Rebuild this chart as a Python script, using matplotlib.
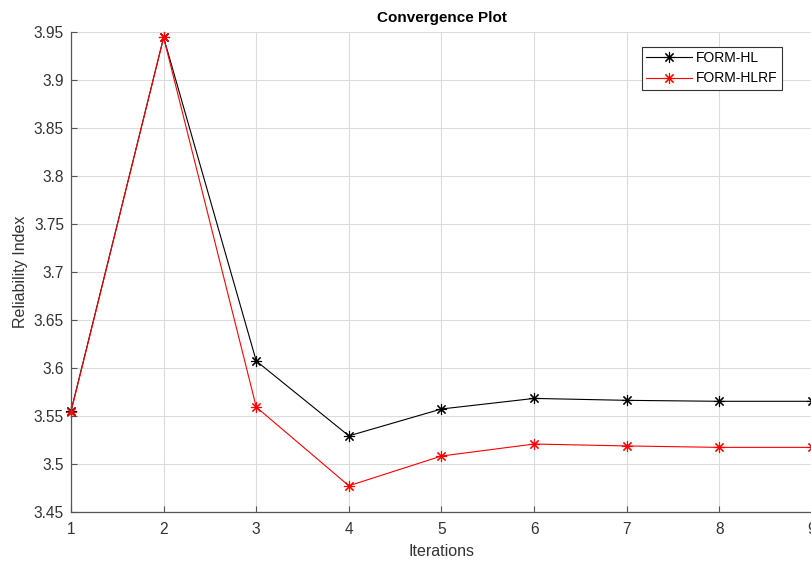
import matplotlib
matplotlib.use("Agg")
import matplotlib.pyplot as plt

plt.rcParams['font.family'] = ['Liberation Sans', 'DejaVu Sans']

iterations = [1, 2, 3, 4, 5, 6, 7, 8, 9]
form_hl = [3.555, 3.944, 3.607, 3.529, 3.557, 3.568, 3.566, 3.565, 3.565]
form_hlrf = [3.554, 3.944, 3.559, 3.477, 3.508, 3.5205, 3.5185, 3.517, 3.517]
xticks = [1, 2, 3, 4, 5, 6, 7, 8, 9]
yticks = [3.45, 3.5, 3.55, 3.6, 3.65, 3.7, 3.75, 3.8, 3.85, 3.9, 3.95]

W, H = 811, 561
fig = plt.figure(figsize=(W / 100, H / 100), dpi=100)
ax = fig.add_axes([71 / W, (H - 511.7) / H, (812 - 71) / W, (511.7 - 31.7) / H])

asterisk = (8, 2, 0)
ax.plot(iterations, form_hl, color='black', lw=0.8, marker=asterisk,
        markersize=8, markeredgewidth=0.8, label='FORM-HL', clip_on=False)
ax.plot(iterations, form_hlrf, color='red', lw=0.8, marker=asterisk,
        markersize=8, markeredgewidth=0.8, label='FORM-HLRF', clip_on=False)

ax.set_xlim(1, 9)
ax.set_ylim(3.45, 3.95)
ax.set_xticks(xticks)
ax.set_yticks(yticks)
ax.set_yticklabels(['3.45', '3.5', '3.55', '3.6', '3.65', '3.7', '3.75',
                    '3.8', '3.85', '3.9', '3.95'])
ax.grid(True, color='#dcdcdc', lw=0.8)
ax.set_axisbelow(True)
for side in ('top', 'right'):
    ax.spines[side].set_visible(False)
for side in ('left', 'bottom'):
    ax.spines[side].set_color('#555555')
    ax.spines[side].set_linewidth(0.9)
ax.tick_params(direction='in', length=4, width=0.8, color='#555555',
               labelcolor='#333333', labelsize=11.2)
ax.tick_params(axis='x', pad=7.5)
ax.tick_params(axis='y', pad=5)

ax.set_title('Convergence Plot', fontsize=11, fontweight='bold', pad=7)
ax.set_xlabel('Iterations', fontsize=11.5, color='#333333', labelpad=5)
ax.set_ylabel('Reliability Index', fontsize=11.5, color='#333333', labelpad=4)

leg = ax.legend(loc='upper left', bbox_to_anchor=(642 / W, 1 - 47 / H),
                bbox_transform=fig.transFigure, borderaxespad=0,
                fancybox=False, framealpha=1, edgecolor='#333333',
                fontsize=10, handlelength=3.3, borderpad=0.3,
                labelspacing=0.45, handletextpad=0.3)
leg.get_frame().set_linewidth(0.8)

fig.savefig('out.png', dpi=100)
